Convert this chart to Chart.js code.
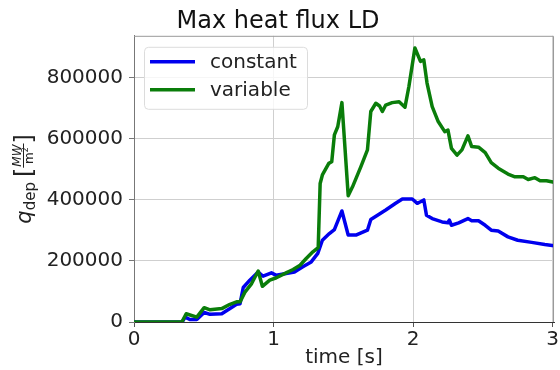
<!DOCTYPE html>
<html>
<head>
<meta charset="utf-8">
<script src="https://cdn.jsdelivr.net/npm/chart.js@4.4.0/dist/chart.umd.min.js"></script>
<style>
  html, body { margin: 0; padding: 0; background: #fff; }
  #wrap { width: 560px; height: 370px; }
</style>
</head>
<body>
<div id="wrap"><canvas id="fluxChart" width="560" height="370"></canvas></div>
<script>
// time [s] and max deposited heat flux for the two runs
const timeConstant = [0, 0.345, 0.367, 0.40, 0.45, 0.503, 0.545, 0.629, 0.688, 0.735, 0.76, 0.783, 0.83, 0.89, 0.925, 0.985, 1.02, 1.09, 1.15, 1.21, 1.27, 1.317, 1.35, 1.40, 1.436, 1.49, 1.535, 1.59, 1.673, 1.697, 1.745, 1.804, 1.875, 1.923, 1.994, 2.03, 2.053, 2.077, 2.096, 2.137, 2.208, 2.25, 2.26, 2.275, 2.327, 2.393, 2.42, 2.469, 2.517, 2.56, 2.61, 2.68, 2.75, 2.85, 2.944, 3.01];
const heatConstant = [0, 0, 16000, 8000, 8000, 31000, 25000, 27000, 44000, 58000, 60000, 113000, 137000, 164000, 150000, 161000, 153000, 159000, 164000, 181000, 197000, 225000, 268000, 290000, 303000, 364000, 285000, 285000, 301000, 336000, 350000, 367000, 389000, 403000, 403000, 389000, 394000, 400000, 350000, 339000, 328000, 325000, 334000, 317000, 325000, 339000, 332000, 332000, 317000, 301000, 298000, 279000, 268000, 261000, 254000, 250000];

const timeVariable = [0, 0.343, 0.374, 0.45, 0.503, 0.545, 0.629, 0.688, 0.735, 0.76, 0.795, 0.843, 0.89, 0.92, 0.973, 1.02, 1.09, 1.14, 1.19, 1.234, 1.282, 1.32, 1.334, 1.35, 1.396, 1.417, 1.436, 1.46, 1.49, 1.535, 1.566, 1.626, 1.673, 1.697, 1.733, 1.76, 1.78, 1.804, 1.85, 1.90, 1.942, 1.97, 2.013, 2.053, 2.077, 2.10, 2.137, 2.18, 2.227, 2.25, 2.275, 2.315, 2.35, 2.393, 2.42, 2.469, 2.517, 2.56, 2.61, 2.68, 2.73, 2.79, 2.825, 2.873, 2.91, 2.956, 3.01];
const heatVariable = [0, 0, 27000, 16000, 47000, 40000, 44000, 58000, 66000, 66000, 98000, 126000, 167000, 117000, 137000, 145000, 161000, 172000, 186000, 208000, 230000, 244000, 454000, 482000, 520000, 525000, 613000, 640000, 719000, 414000, 443000, 509000, 564000, 690000, 717000, 708000, 690000, 711000, 719000, 722000, 704000, 772000, 898000, 854000, 859000, 783000, 706000, 657000, 624000, 629000, 569000, 547000, 564000, 610000, 575000, 573000, 555000, 522000, 504000, 485000, 476000, 476000, 467000, 473000, 463000, 463000, 458000];

const seriesLabels = ["constant", "variable"];
const xTicks = [0, 1, 2, 3];
const yTicks = [0, 200000, 400000, 600000, 800000];

const FONT = "'DejaVu Sans', sans-serif";

function toPoints(xs, ys) {
  return xs.map((x, i) => ({ x: x, y: ys[i] }));
}

// frame (top/right spines) drawn over the plot area
const framePlugin = {
  id: "frame",
  afterDatasetsDraw(chart) {
    const a = chart.chartArea;
    const ctx = chart.ctx;
    ctx.save();
    ctx.strokeStyle = "#999";
    ctx.lineWidth = 1;
    ctx.beginPath();
    ctx.moveTo(a.left, a.top + 0.5);
    ctx.lineTo(a.right - 0.5, a.top + 0.5);
    ctx.lineTo(a.right - 0.5, a.bottom);
    ctx.stroke();
    ctx.restore();
  }
};

// legend box in the upper left corner of the plot
const boxLegend = {
  id: "boxLegend",
  afterDraw(chart) {
    const ctx = chart.ctx;
    const a = chart.chartArea;
    const x = a.left + 10, y = a.top + 11, w = 163, h = 62, r = 4;
    ctx.save();
    ctx.fillStyle = "rgba(255,255,255,0.8)";
    ctx.strokeStyle = "#dcdcdc";
    ctx.lineWidth = 1;
    ctx.beginPath();
    ctx.roundRect(x + 0.5, y + 0.5, w, h, r);
    ctx.fill();
    ctx.stroke();
    ctx.font = "20px " + FONT;
    ctx.textBaseline = "middle";
    chart.data.datasets.forEach((ds, i) => {
      const cy = y + 15 + i * 28;
      ctx.strokeStyle = ds.borderColor;
      ctx.lineWidth = 3.5;
      ctx.beginPath();
      ctx.moveTo(x + 6, cy);
      ctx.lineTo(x + 51, cy);
      ctx.stroke();
      ctx.fillStyle = "#222";
      ctx.fillText(ds.label, x + 66, cy + 1);
    });
    ctx.restore();
  }
};

// rotated y label: q_dep [MW / m^2]
const yLabel = {
  id: "yLabel",
  afterDraw(chart) {
    const ctx = chart.ctx;
    const a = chart.chartArea;
    ctx.save();
    const fq = "italic 21px " + FONT;
    const fsub = "15px " + FONT;
    const fbr = "24px " + FONT;
    const fnum = "italic 12px " + FONT;
    const fden = "12px " + FONT;
    ctx.font = fq; const wq = ctx.measureText("q").width;
    ctx.font = fsub; const wsub = ctx.measureText("dep").width;
    ctx.font = fbr; const wbr = ctx.measureText("[").width;
    ctx.font = fnum; const wnum = ctx.measureText("MW").width;
    ctx.font = fden; const wm = ctx.measureText("m").width;
    ctx.font = "8px " + FONT; const w2 = ctx.measureText("2").width;
    const wfrac = Math.max(wnum, wm + w2) + 2;
    const gap = 5;
    const total = wq + wsub + gap + wbr + wfrac + wbr;
    ctx.translate(31, (a.top + a.bottom) / 2);
    ctx.rotate(-Math.PI / 2);
    ctx.fillStyle = "#222";
    ctx.textBaseline = "alphabetic";
    let u = -total / 2;
    ctx.font = fq; ctx.fillText("q", u, 0); u += wq;
    ctx.font = fsub; ctx.fillText("dep", u, 4); u += wsub + gap;
    ctx.font = fbr; ctx.fillText("[", u, 1); u += wbr;
    // fraction
    const barV = -8;
    ctx.font = fnum; ctx.textAlign = "center";
    ctx.fillText("MW", u + wfrac / 2, barV - 2);
    ctx.fillRect(u, barV, wfrac, 1);
    ctx.font = fden; ctx.textAlign = "left";
    const mx = u + (wfrac - wm - w2) / 2;
    ctx.fillText("m", mx, barV + 10);
    ctx.font = "8px " + FONT; ctx.fillText("2", mx + wm, barV + 5);
    u += wfrac;
    ctx.font = fbr; ctx.fillText("]", u, 1);
    ctx.restore();
  }
};

const ctx = document.getElementById("fluxChart").getContext("2d");

new Chart(ctx, {
  type: "line",
  data: {
    datasets: [
      {
        label: seriesLabels[0],
        data: toPoints(timeConstant, heatConstant),
        borderColor: "#0000ee",
        borderWidth: 3.5,
        pointRadius: 0,
        tension: 0,
        borderJoinStyle: "round",
        order: 2
      },
      {
        label: seriesLabels[1],
        data: toPoints(timeVariable, heatVariable),
        borderColor: "#0a7d0a",
        borderWidth: 3.5,
        pointRadius: 0,
        tension: 0,
        borderJoinStyle: "round",
        order: 1
      }
    ]
  },
  options: {
    responsive: false,
    animation: false,
    layout: { padding: { left: 0, right: 4, top: 0, bottom: 0 } },
    plugins: {
      legend: { display: false },
      tooltip: { enabled: false },
      title: {
        display: true,
        text: "Max heat flux LD",
        color: "#111",
        font: { family: FONT, size: 24, weight: "normal" },
        padding: { top: 7, bottom: 0 }
      }
    },
    scales: {
      x: {
        type: "linear",
        min: 0,
        max: 3.01,
        afterBuildTicks(scale) { scale.ticks = xTicks.map(v => ({ value: v })); },
        afterFit(scale) { scale.height = 48; },
        grid: { color: "#cfcfcf", tickLength: 5, tickColor: "#555" },
        border: { color: "#333", width: 1 },
        ticks: {
          color: "#222",
          padding: 1,
          maxRotation: 0,
          font: { family: FONT, size: 20 }
        },
        title: {
          display: true,
          text: "time [s]",
          color: "#222",
          font: { family: FONT, size: 20 },
          padding: { top: 0, bottom: 0 }
        }
      },
      y: {
        min: 0,
        max: 938000,
        afterBuildTicks(scale) { scale.ticks = yTicks.map(v => ({ value: v })); },
        afterFit(scale) { scale.width = 134; },
        grid: { color: "#cfcfcf", tickLength: 5, tickColor: "#777" },
        border: { color: "#777", width: 1 },
        ticks: {
          color: "#222",
          padding: 6,
          font: { family: FONT, size: 20 },
          callback: v => String(v)
        }
      }
    }
  },
  plugins: [framePlugin, boxLegend, yLabel]
});
</script>
</body>
</html>
